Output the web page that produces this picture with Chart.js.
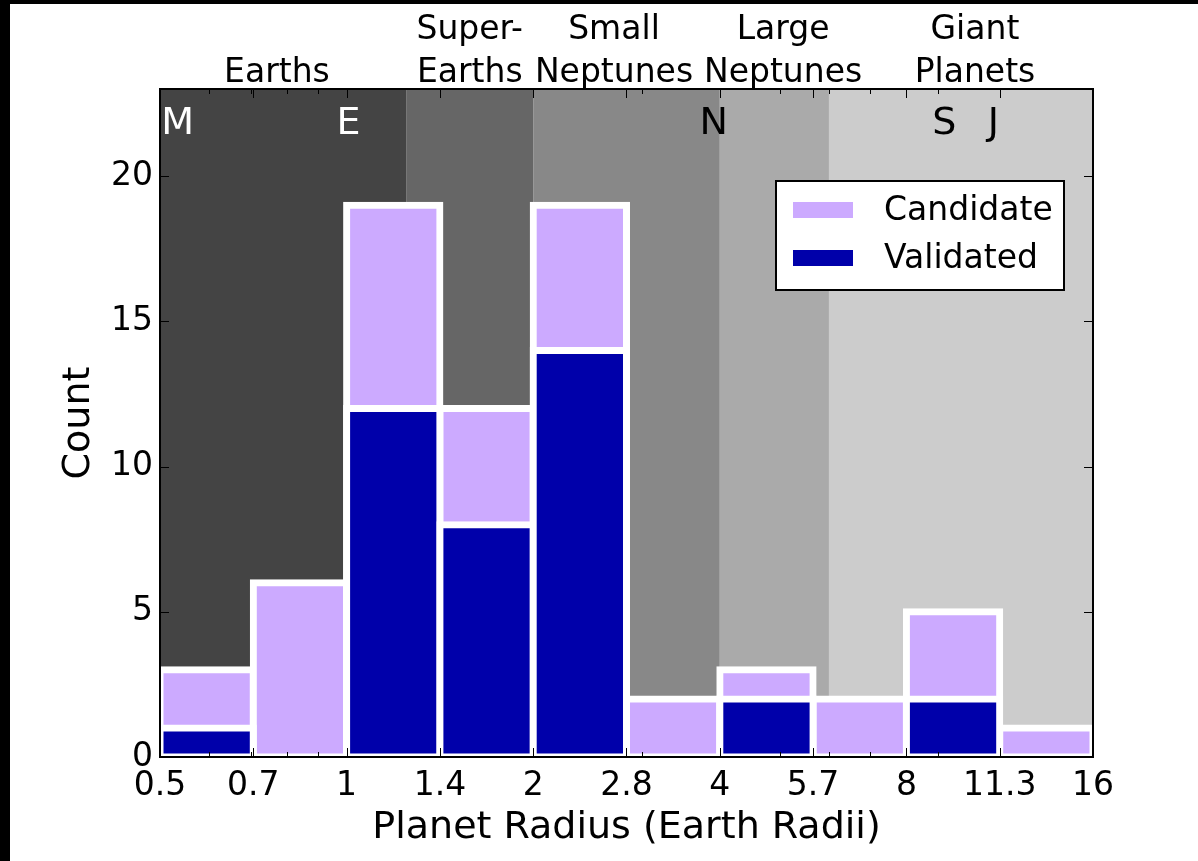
<!DOCTYPE html>
<html lang="en">
<head>
    <meta charset="UTF-8">
    <title>Planet radius histogram</title>
    <script src="https://cdn.jsdelivr.net/npm/chart.js@4.4.0/dist/chart.umd.min.js"></script>
    <style>
        html, body {
            margin: 0;
            background: #000;
            overflow: hidden;
        }
        #chart {
            position: absolute;
            left: 10px;
            top: 4px;
            background: #fff;
        }
    </style>
</head>
<body>
    <canvas id="chart" width="1188" height="857"></canvas>

    <script>
        // Bin edges (Earth radii) and their tick labels
        const radiusEdges = [0.5, 0.7071, 1, 1.4142, 2, 2.8284, 4, 5.6569, 8, 11.3137, 16];
        const edgeLabels = ['0.5', '0.7', '1', '1.4', '2', '2.8', '4', '5.7', '8', '11.3', '16'];
        const minorTicks = [0.6, 0.7, 0.8, 0.9, 2, 3, 4, 5, 6, 7, 8, 9];
        const countTicks = [0, 5, 10, 15, 20];

        // Counts per bin
        const candidateCounts = [3, 6, 19, 12, 19, 2, 3, 2, 5, 1];
        const validatedCounts = [1, 0, 12, 8, 14, 0, 2, 0, 2, 0];

        // Size classes shaded behind the bars
        const classEdges = [0.5, 1.25, 2, 4, 6, 16];
        const classNames = [['Earths'], ['Super-', 'Earths'], ['Small', 'Neptunes'], ['Large', 'Neptunes'], ['Giant', 'Planets']];
        const classNameAt = [0.772, 1.58, 2.70, 5.06, 10.32];

        // Solar system planets marked at the top
        const planetLetters = ['M', 'E', 'N', 'S', 'J'];
        const planetRadii = [0.53, 1.0, 3.88, 9.14, 10.97];

        // styles
        const classColors = ['#444444', '#666666', '#888888', '#aaaaaa', '#cccccc'];
        const letterColors = ['#fff', '#fff', '#000', '#000', '#000'];
        const FONT = '"DejaVu Sans", sans-serif';

        const binCenters = candidateCounts.map((_, i) => Math.sqrt(radiusEdges[i] * radiusEdges[i + 1]));

        const decor = {
            id: 'decor',
            beforeDatasetsDraw(chart) {
                const {ctx, chartArea: a, scales: {x}} = chart;
                ctx.save();
                classColors.forEach((c, i) => {
                    const x0 = x.getPixelForValue(classEdges[i]);
                    const x1 = x.getPixelForValue(classEdges[i + 1]);
                    ctx.fillStyle = c;
                    ctx.fillRect(x0, a.top, x1 - x0, a.bottom - a.top);
                });
                ctx.font = '38px ' + FONT;
                ctx.textAlign = 'center';
                ctx.textBaseline = 'alphabetic';
                planetLetters.forEach((p, i) => {
                    ctx.fillStyle = letterColors[i];
                    ctx.fillText(p, x.getPixelForValue(planetRadii[i]) + 2, a.top + 45);
                });
                ctx.restore();
            },
            afterDatasetsDraw(chart) {
                const {ctx, chartArea: a, scales: {x, y}} = chart;
                ctx.save();
                ctx.strokeStyle = '#000';
                ctx.lineWidth = 1;

                // inward ticks on all four sides
                ctx.beginPath();
                const tickX = (v, len) => {
                    const px = Math.round(x.getPixelForValue(v)) + 0.5;
                    ctx.moveTo(px, a.bottom); ctx.lineTo(px, a.bottom - len);
                    ctx.moveTo(px, a.top); ctx.lineTo(px, a.top + len);
                };
                radiusEdges.forEach(v => tickX(v, 9));
                minorTicks.forEach(v => tickX(v, 5));
                countTicks.forEach(v => {
                    const py = Math.round(y.getPixelForValue(v)) + 0.5;
                    ctx.moveTo(a.left, py); ctx.lineTo(a.left + 9, py);
                    ctx.moveTo(a.right, py); ctx.lineTo(a.right - 9, py);
                });
                ctx.stroke();

                ctx.lineWidth = 2;
                ctx.strokeRect(a.left, a.top, a.right - a.left, a.bottom - a.top);

                // legend box
                const lx = a.left + 616, ly = a.top + 92;
                ctx.fillStyle = '#fff';
                ctx.fillRect(lx, ly, 288, 109);
                ctx.strokeRect(lx, ly, 288, 109);
                ctx.font = '33px ' + FONT;
                ctx.textAlign = 'left';
                ctx.textBaseline = 'middle';
                chart.data.datasets.forEach((ds, i) => {
                    const cy = ly + 29 + i * 48;
                    ctx.fillStyle = ds.backgroundColor;
                    ctx.fillRect(lx + 17, cy - 8, 60, 16);
                    ctx.fillStyle = '#000';
                    ctx.fillText(ds.label, lx + 108, cy + 1);
                });

                // size class names above the frame
                ctx.textAlign = 'center';
                ctx.textBaseline = 'alphabetic';
                classNames.forEach((lines, i) => {
                    const cx = x.getPixelForValue(classNameAt[i]);
                    lines.forEach((t, j) => {
                        ctx.fillText(t, cx, a.top - 7 - (lines.length - 1 - j) * 43);
                    });
                });
                ctx.restore();
            }
        };

        const barStyle = {
            borderColor: '#fff',
            borderWidth: 7,
            inflateAmount: 3.5,
            borderSkipped: false,
            grouped: false,
            barPercentage: 1,
            categoryPercentage: 1,
            clip: 0
        };

        new Chart(document.getElementById('chart'), {
            type: 'bar',
            data: {
                datasets: [
                    Object.assign({
                        label: 'Candidate',
                        order: 1,
                        backgroundColor: '#ccaaff',
                        data: candidateCounts.map((v, i) => ({x: binCenters[i], y: v || null}))
                    }, barStyle),
                    Object.assign({
                        label: 'Validated',
                        order: 0,
                        backgroundColor: '#0000aa',
                        data: validatedCounts.map((v, i) => ({x: binCenters[i], y: v || null}))
                    }, barStyle)
                ]
            },
            options: {
                responsive: false,
                animation: false,
                devicePixelRatio: 1,
                layout: {padding: {left: 0, right: 105, top: 85, bottom: 0}},
                plugins: {
                    legend: {display: false},
                    tooltip: {enabled: false}
                },
                scales: {
                    x: {
                        type: 'logarithmic',
                        min: 0.5,
                        max: 16,
                        offset: false,
                        grid: {display: false, drawTicks: false},
                        border: {display: false},
                        afterBuildTicks: s => { s.ticks = radiusEdges.map(v => ({value: v})); },
                        afterFit: s => { s.height = 104; },
                        ticks: {
                            autoSkip: false,
                            maxRotation: 0,
                            padding: 10,
                            color: '#000',
                            font: {family: FONT, size: 33},
                            callback: (v, i) => edgeLabels[i]
                        },
                        title: {
                            display: true,
                            text: 'Planet Radius (Earth Radii)',
                            color: '#000',
                            font: {family: FONT, size: 38, lineHeight: 1},
                            padding: {top: 0, bottom: 14}
                        }
                    },
                    y: {
                        min: 0,
                        max: 23,
                        grid: {display: false, drawTicks: false},
                        border: {display: false},
                        afterBuildTicks: s => { s.ticks = countTicks.map(v => ({value: v})); },
                        afterFit: s => { s.width = 150; },
                        ticks: {
                            padding: 7,
                            color: '#000',
                            font: {family: FONT, size: 33}
                        },
                        title: {
                            display: true,
                            text: 'Count',
                            color: '#000',
                            font: {family: FONT, size: 38, lineHeight: 1},
                            padding: {top: 50, bottom: 0}
                        }
                    }
                }
            },
            plugins: [decor]
        });
    </script>
</body>
</html>
